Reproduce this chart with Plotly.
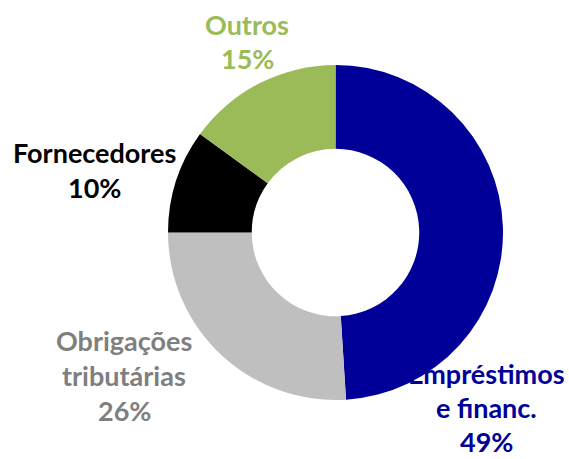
import plotly.graph_objects as go

# composition of liabilities
labels = ["Empréstimos e financ.", "Obrigações tributárias", "Fornecedores", "Outros"]
values = [49, 26, 10, 15]
label_lines = [["Empréstimos", "e financ."], ["Obrigações", "tributárias"], ["Fornecedores"], ["Outros"]]
slice_colors = ["#000099", "#BFBFBF", "#000000", "#9BBB59"]
text_colors = ["#000099", "#7F7F7F", "#000000", "#9BBB59"]

W, H = 569, 459

# where each label block sits (pixel centre x, pixel y of first line middle, line gap)
label_pos = [(486, 373, 34), (124, 340, 35), (94.5, 153, 34), (247, 24, 34)]

fig = go.Figure()

fig.add_trace(go.Pie(
    labels=labels,
    values=values,
    hole=0.5,
    sort=False,
    direction="clockwise",
    rotation=0,
    textinfo="none",
    marker={"colors": slice_colors, "line": {"width": 0}},
    domain={"x": [168 / W, 503 / W], "y": [1 - 400 / H, 1 - 65 / H]},
    showlegend=False,
))

total = sum(values)
annotations = []
for lines, v, col, (px, py, gap) in zip(label_lines, values, text_colors, label_pos):
    rows = lines + ["{:.0f}%".format(v / total * 100)]
    for k, row in enumerate(rows):
        annotations.append(dict(
            x=px / W, y=1 - (py + k * gap) / H,
            xref="paper", yref="paper",
            xanchor="center", yanchor="middle",
            text="<b>" + row + "</b>",
            showarrow=False,
            font={"family": "Lato", "size": 27, "color": col},
        ))

fig.update_layout(
    width=W, height=H,
    margin={"l": 0, "r": 0, "t": 0, "b": 0},
    paper_bgcolor="white",
    plot_bgcolor="white",
    annotations=annotations,
)

# drop the page's default body margin so the figure sits at the top-left corner
fig.write_html("out.html", config={"displayModeBar": False},
               post_script="document.body.style.margin='0';")
